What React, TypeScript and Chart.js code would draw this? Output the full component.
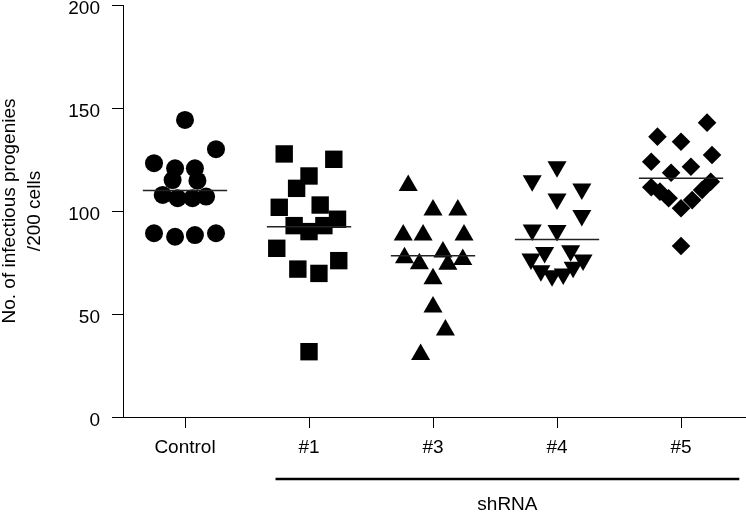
import React, { useEffect, useRef } from 'react';
import { Chart, registerables } from 'chart.js';

Chart.register(...registerables);

const categories = ['Control', '#1', '#3', '#4', '#5'];
const yTickValues = [0, 50, 100, 150, 200];

const controlValues = [144.2, 130, 123.2, 120.7, 120.7, 115, 114.7, 107.8, 106.2, 106.2, 107, 89.2, 87.5, 88.3, 89.2];
const controlJitter = [0, 0.25, -0.25, -0.08, 0.08, -0.1, 0.1, -0.18, -0.06, 0.06, 0.17, -0.25, -0.08, 0.08, 0.25];

const sh1Values = [127.7, 125.1, 117, 111, 101.8, 102.9, 96, 92.9, 90, 92.9, 81.9, 71.8, 69.7, 75.9, 31.7];
const sh1Jitter = [-0.2, 0.2, 0, -0.1, -0.24, 0.09, 0.23, -0.12, 0, 0.12, -0.26, -0.09, 0.08, 0.24, 0];

const sh3Values = [112.4, 100.5, 100.5, 88.4, 88.4, 88.4, 80.1, 77.3, 74.4, 74.1, 76.5, 67.1, 53.4, 42.2, 30.4];
const sh3Jitter = [-0.2, 0, 0.2, -0.24, -0.08, 0.25, 0.08, -0.23, -0.11, 0.12, 0.24, 0, 0, 0.1, -0.1];

const sh4Values = [121.5, 114.7, 110.7, 105.8, 97.8, 90.8, 90.5, 79.9, 80.7, 76.7, 76.2, 71, 68.6, 69.4, 72.7];
const sh4Jitter = [0, -0.2, 0.2, 0, 0.2, -0.2, 0, -0.1, 0.11, -0.21, 0.21, -0.13, -0.04, 0.05, 0.13];

const sh5Values = [142.9, 136.1, 133.6, 127.2, 123.9, 121.5, 118.6, 111.5, 109.4, 106.2, 101.3, 105.3, 110.2, 114.2, 83];
const sh5Jitter = [0.21, -0.19, 0, 0.25, -0.24, 0.08, -0.08, -0.24, -0.17, -0.1, 0, 0.09, 0.17, 0.24, 0];

const groupMeans = [110, 92.4, 78.3, 86.2, 115.9];

const FONT = 'Liberation Sans, Arial, sans-serif';

export default function App() {
  const ref = useRef<HTMLCanvasElement | null>(null);

  useEffect(() => {
    if (!ref.current) return;
    const groups = [
      { v: controlValues, j: controlJitter, style: 'circle', r: 9, rot: 0 },
      { v: sh1Values, j: sh1Jitter, style: 'rect', r: 12.3, rot: 0 },
      { v: sh3Values, j: sh3Jitter, style: 'triangle', r: 11, rot: 0 },
      { v: sh4Values, j: sh4Jitter, style: 'triangle', r: 11, rot: 180 },
      { v: sh5Values, j: sh5Jitter, style: 'rectRot', r: 9.3, rot: 0 },
    ];
    const datasets: any[] = [];
    groups.forEach((g, i) => {
      datasets.push({
        type: 'scatter',
        label: categories[i],
        data: g.v.map((y, k) => ({ x: i + g.j[k], y })),
        pointStyle: g.style,
        pointRadius: g.r,
        pointRotation: g.rot,
        pointBackgroundColor: '#000',
        pointBorderColor: '#000',
        pointBorderWidth: 0,
        showLine: false,
        clip: false,
        order: 2,
      });
    });
    groupMeans.forEach((m, i) => {
      datasets.push({
        type: 'line',
        label: 'mean ' + categories[i],
        data: [{ x: i - 0.34, y: m }, { x: i + 0.34, y: m }],
        borderColor: '#222',
        borderWidth: 1.5,
        pointRadius: 0,
        fill: false,
        order: 1,
      });
    });

    const bracketPlugin = {
      id: 'bracket',
      afterDraw(chart: any) {
        const ctx = chart.ctx;
        const xs = chart.scales.x;
        const bottom = chart.chartArea.bottom;
        const x1 = xs.getPixelForValue(1 - 0.27);
        const x2 = xs.getPixelForValue(4 + 0.47);
        ctx.save();
        ctx.strokeStyle = '#000';
        ctx.lineWidth = 2.5;
        ctx.beginPath();
        ctx.moveTo(x1, bottom + 62);
        ctx.lineTo(x2, bottom + 62);
        ctx.stroke();
        ctx.fillStyle = '#000';
        ctx.font = '19px ' + FONT;
        ctx.textAlign = 'center';
        ctx.textBaseline = 'alphabetic';
        ctx.fillText('shRNA', (x1 + x2) / 2, bottom + 93);
        ctx.restore();
      },
    };

    const chart = new Chart(ref.current, {
      type: 'scatter',
      data: { datasets },
      plugins: [bracketPlugin],
      options: {
        animation: false,
        responsive: false,
        devicePixelRatio: 1,
        layout: { autoPadding: false, padding: { top: 5, left: 0, right: 0, bottom: 0 } },
        plugins: { legend: { display: false }, tooltip: { enabled: false } },
        scales: {
          x: {
            type: 'linear',
            min: -0.5,
            max: 4.524,
            afterBuildTicks: (s: any) => {
              s.ticks = categories.map((_, i) => ({ value: i }));
            },
            afterFit: (s: any) => {
              s.height = 95;
              s.paddingLeft = 0;
              s.paddingRight = 0;
            },
            ticks: {
              callback: (v: any) => categories[v] ?? '',
              font: { family: FONT, size: 19 },
              color: '#000',
              padding: 8,
              maxRotation: 0,
              autoSkip: false,
            },
            grid: { drawOnChartArea: false, tickLength: 11, color: '#000', lineWidth: 1 },
            border: { color: '#000', width: 1 },
          },
          y: {
            type: 'linear',
            min: 0,
            max: 200,
            afterBuildTicks: (s: any) => {
              s.ticks = yTickValues.map((v) => ({ value: v }));
            },
            afterFit: (s: any) => {
              s.width = 123;
              s.paddingTop = 0;
              s.paddingBottom = 0;
            },
            ticks: {
              font: { family: FONT, size: 19 },
              color: '#000',
              padding: 12,
              labelOffset: 3.5,
            },
            grid: { drawOnChartArea: false, tickLength: 11, color: '#000', lineWidth: 1 },
            border: { color: '#000', width: 1 },
            title: {
              display: true,
              text: ['No. of infectious progenies', '/200 cells'],
              font: { family: FONT, size: 19, lineHeight: '25px' },
              color: '#000',
              padding: { top: -3, bottom: 0 },
            },
          },
        },
      },
    } as any);
    return () => chart.destroy();
  }, []);

  return (
    <div style={{ position: 'absolute', left: 0, top: 0, width: 746, height: 512, background: '#fff' }}>
      <canvas ref={ref} width={746} height={512} />
    </div>
  );
}
